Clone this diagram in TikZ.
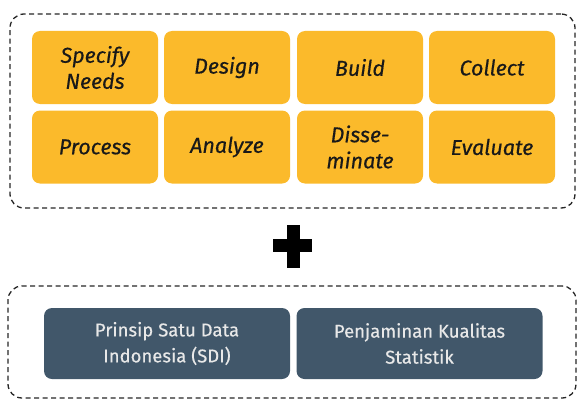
\documentclass[tikz,border=0pt]{standalone}
\usepackage{fontspec}
\setmainfont{Fira Sans}
\definecolor{gold}{HTML}{FBBA2B}
\definecolor{slate}{HTML}{41576A}
\definecolor{paletext}{HTML}{E8E8E8}
\begin{document}
\begin{tikzpicture}[x=1pt,y=-1pt,
  phase/.style={fill=gold, rounded corners=8pt, minimum width=126pt, minimum height=73pt,
    font=\itshape\fontsize{21.5}{26}\selectfont\addfontfeature{FakeBold=0.4}, align=center, inner sep=0pt, text=black!90},
  pillar/.style={fill=slate, rounded corners=8pt, minimum width=246pt, minimum height=71pt,
    text=paletext, font=\fontsize{18.5}{26}\selectfont\addfontfeature{FakeBold=0.4}, align=center, inner sep=0pt},
  frame/.style={draw=black!85, line width=1.3pt, dash pattern=on 5pt off 3.5pt,
    rounded corners=14pt, inner sep=0pt}]
\useasboundingbox (0,0) rectangle (577,401);
% frames
\node[frame, minimum width=565pt, minimum height=194pt] (topframe) at (292.5,111) {};
\node[frame, minimum width=568pt, minimum height=112pt] (bottomframe) at (292,342) {};
% GSBPM phases
\node[phase] (specify) at (95,67.5) {Specify\\Needs};
\node[phase] (design) at (227,67.5) {Design};
\node[phase] (build) at (360,67.5) {Build};
\node[phase] (collect) at (492,67.5) {Collect};
\node[phase] (process) at (95,147) {Process};
\node[phase] (analyze) at (227,147) {Analyze};
\node[phase] (dissem) at (360,147) {Disse-\\minate};
\node[phase] (evaluate) at (492,147) {Evaluate};
% plus sign
\fill[black] (273,239) rectangle (312,252);
\fill[black] (287,225) rectangle (300,268);
% principles
\node[pillar] (sdi) at (167,343.5) {Prinsip Satu Data\\Indonesia (SDI)};
\node[pillar] (pks) at (419.5,343.5) {Penjaminan Kualitas\\Statistik};
\end{tikzpicture}
\end{document}
